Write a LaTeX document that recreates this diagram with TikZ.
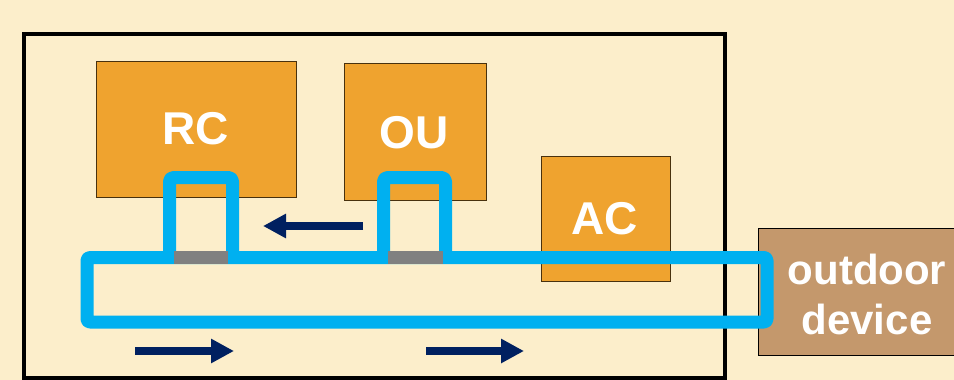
\documentclass[tikz,border=0pt]{standalone}
\usepackage{fontspec}
\setmainfont{Liberation Sans}
\usetikzlibrary{arrows.meta}
\definecolor{bgc}{HTML}{FCEECB}
\definecolor{orangec}{HTML}{EFA32F}
\definecolor{brownc}{HTML}{C4986C}
\definecolor{bluec}{HTML}{00B0F0}
\definecolor{navyc}{HTML}{002060}
\definecolor{grayc}{HTML}{808080}
\tikzset{
  unitbox/.style={draw=black!70!orangec, line width=0.8pt, fill=orangec, inner sep=0pt},
  lbl/.style={text=white, font=\bfseries\fontsize{46}{50}\selectfont, inner sep=0pt},
  pipe/.style={draw=bluec, line width=13pt, rounded corners=3pt, line join=round},
  flow/.style={draw=navyc, line width=8pt, -{Triangle[length=23pt,width=23pt]}},
}
\begin{document}
\begin{tikzpicture}[x=1pt,y=-1pt]
\fill[bgc] (0,0) rectangle (954,380);
\useasboundingbox (0,0) rectangle (954,380);
% outer room
\draw[line width=4pt] (24,34) rectangle (725,378);
% units
\node[unitbox, minimum width=200pt, minimum height=136pt] (rc) at (196,129) {};
\node[unitbox, minimum width=142pt, minimum height=137pt] (ou) at (415,131.5) {};
\node[unitbox, minimum width=129pt, minimum height=125pt] (ac) at (605.5,218.5) {};
\node[draw=black, line width=0.8pt, fill=brownc, minimum width=200pt, minimum height=127pt, inner sep=0pt] (od) at (858,291.5) {};
% pipes
\coordinate (l1) at (87,257.5);
\coordinate (l2) at (767,257.5);
\coordinate (l3) at (767,322);
\coordinate (l4) at (87,322);
\draw[pipe] (l1) -- (l2) -- (l3) -- (l4) -- cycle;
\draw[pipe, rounded corners=4pt] (169.5,257.5) -- (169.5,177.5) -- (232.5,177.5) -- (232.5,257.5);
\draw[pipe, rounded corners=4pt] (383.5,257.5) -- (383.5,177.5) -- (445.5,177.5) -- (445.5,257.5);
\fill[grayc] (174,251) rectangle (228,263.5);
\fill[grayc] (388,251) rectangle (443,263.5);
% labels
\node[lbl] at (rc.center) {RC};
\node[lbl] at (414,133) {OU};
\node[lbl] at (605,219) {AC};
\node[text=white, font=\bfseries\fontsize{42}{50}\selectfont, align=center, inner sep=0pt] at (867,294) {outdoor\\device};
% flow arrows
\coordinate (a1s) at (363,226);
\coordinate (a1e) at (263,226);
\draw[flow] (a1s) -- (a1e);
\coordinate (a2s) at (135,351);
\coordinate (a2e) at (234,351);
\draw[flow] (a2s) -- (a2e);
\coordinate (a3s) at (426,351);
\coordinate (a3e) at (524,351);
\draw[flow] (a3s) -- (a3e);
\end{tikzpicture}
\end{document}
